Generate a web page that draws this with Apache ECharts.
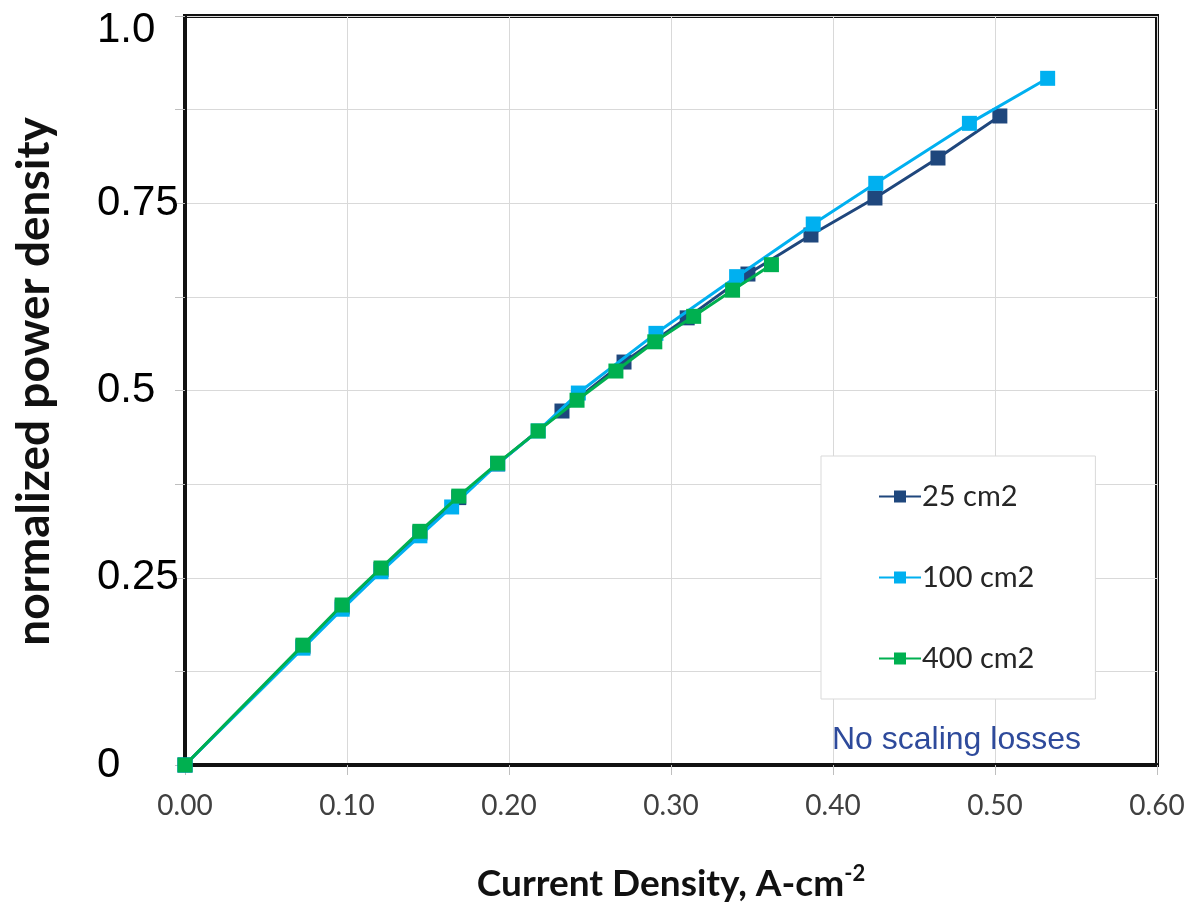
<!DOCTYPE html>
<html>
<head>
<meta charset="utf-8">
<script src="https://cdn.jsdelivr.net/npm/echarts@6/dist/echarts.min.js"></script>
<style>
html,body{margin:0;padding:0;background:#fff;}
#chart{width:1188px;height:903px;}
</style>
</head>
<body>
<div id="chart"></div>
<script>
// ---- data ----
const seriesNames = ['25 cm2', '100 cm2', '400 cm2'];
const s25 = [
  [0, 0], [0.0728, 0.158], [0.097, 0.211], [0.121, 0.261], [0.145, 0.310], [0.169, 0.357],
  [0.193, 0.402], [0.2327, 0.4726], [0.271, 0.538], [0.310, 0.597], [0.3475, 0.6555],
  [0.3864, 0.7076], [0.4259, 0.757], [0.4648, 0.8104], [0.503, 0.8665]
];
const s100 = [
  [0, 0], [0.0728, 0.156], [0.097, 0.208], [0.121, 0.258], [0.145, 0.306], [0.1646, 0.3445],
  [0.193, 0.402], [0.218, 0.446], [0.2428, 0.4966], [0.2907, 0.5763], [0.3405, 0.652],
  [0.3878, 0.7223], [0.4264, 0.7766], [0.4842, 0.8567], [0.5325, 0.9168]
];
const s400 = [
  [0, 0], [0.0728, 0.160], [0.097, 0.2136], [0.121, 0.263], [0.145, 0.312], [0.169, 0.359],
  [0.193, 0.403], [0.218, 0.446], [0.242, 0.487], [0.266, 0.526], [0.290, 0.565],
  [0.314, 0.599], [0.338, 0.634], [0.362, 0.668]
];
const xTickLabels = ['0.00', '0.10', '0.20', '0.30', '0.40', '0.50', '0.60'];
const yTickLabels = {'0': '0', '0.25': '0.25', '0.5': '0.5', '0.75': '0.75', '1': '1.0'};
const colors = ['#1F477D', '#00B0F0', '#00B050'];

const chart = echarts.init(document.getElementById('chart'), null, {renderer: 'canvas'});

function mk(name, data, color, z) {
  return {
    name: name, type: 'line', data: data, z: z,
    symbol: 'rect', symbolSize: 15,
    lineStyle: {color: color, width: 3},
    itemStyle: {color: color},
    emphasis: {disabled: true},
    animation: false
  };
}

const yLabelStyle = {fontSize: 42, color: '#000', fontFamily: 'Liberation Sans'};

chart.setOption({
  animation: false,
  grid: {
    left: 185, top: 16, right: 31, bottom: 138,
    containLabel: false, outerBoundsMode: 'none',
    show: true, borderColor: '#111', borderWidth: 4, backgroundColor: '#fff'
  },
  xAxis: {
    type: 'value', min: 0, max: 0.6, interval: 0.1,
    axisLine: {show: true, onZero: false, lineStyle: {color: '#111', width: 4}},
    axisTick: {show: true, inside: false, length: 10, lineStyle: {color: '#bfbfbf', width: 1}},
    splitLine: {show: true, lineStyle: {color: '#d9d9d9', width: 1}},
    axisLabel: {
      margin: 27, fontSize: 28, color: '#404040', fontFamily: 'Lato',
      formatter: function (v) { return xTickLabels[Math.round(v * 10)]; }
    },
    name: '{a|Current Density, A-cm}{s|-2}',
    nameLocation: 'middle', nameGap: 98,
    nameTextStyle: {
      rich: {
        a: {fontSize: 37, fontWeight: 'bold', color: '#111', fontFamily: 'Lato'},
        s: {fontSize: 22, fontWeight: 'bold', color: '#111', fontFamily: 'Lato', padding: [0, 0, 20, 0]}
      }
    }
  },
  yAxis: {
    type: 'value', min: 0, max: 1, interval: 0.125,
    axisLine: {show: true, onZero: false, lineStyle: {color: '#111', width: 4}},
    axisTick: {show: true, inside: false, length: 10, lineStyle: {color: '#bfbfbf', width: 1}},
    splitLine: {show: true, lineStyle: {color: '#d9d9d9', width: 1}},
    axisLabel: Object.assign({
      margin: 88, align: 'left',
      formatter: function (v) {
        const k = String(Math.round(v * 1000) / 1000);
        if (yTickLabels[k] === undefined) return '';
        return k === '1' ? '{t|' + yTickLabels[k] + '}' : yTickLabels[k];
      },
      rich: {t: Object.assign({padding: [28, 0, 0, 0]}, yLabelStyle)}
    }, yLabelStyle),
    name: 'normalized power density',
    nameLocation: 'middle', nameGap: 128, nameRotate: 90,
    nameTextStyle: {fontSize: 46, fontWeight: 'bold', color: '#111', fontFamily: 'Lato', padding: [0, 0, 0, 18]}
  },
  legend: {
    orient: 'vertical', left: 821, top: 456,
    padding: [26, 61, 26, 57],
    itemGap: 52, itemWidth: 42, itemHeight: 15,
    backgroundColor: '#fff', borderColor: '#d9d9d9', borderWidth: 1,
    textStyle: {fontSize: 29, color: '#262626', fontFamily: 'Lato', padding: [0, 0, 0, -4]},
    data: seriesNames
  },
  graphic: [{
    type: 'text', left: 832, top: 724, z: 100,
    style: {text: 'No scaling losses', fontSize: 32, fill: '#2E4A9B', fontFamily: 'Liberation Sans'}
  }],
  series: [
    mk(seriesNames[0], s25, colors[0], 2),
    mk(seriesNames[1], s100, colors[1], 3),
    mk(seriesNames[2], s400, colors[2], 4)
  ]
});
</script>
</body>
</html>
